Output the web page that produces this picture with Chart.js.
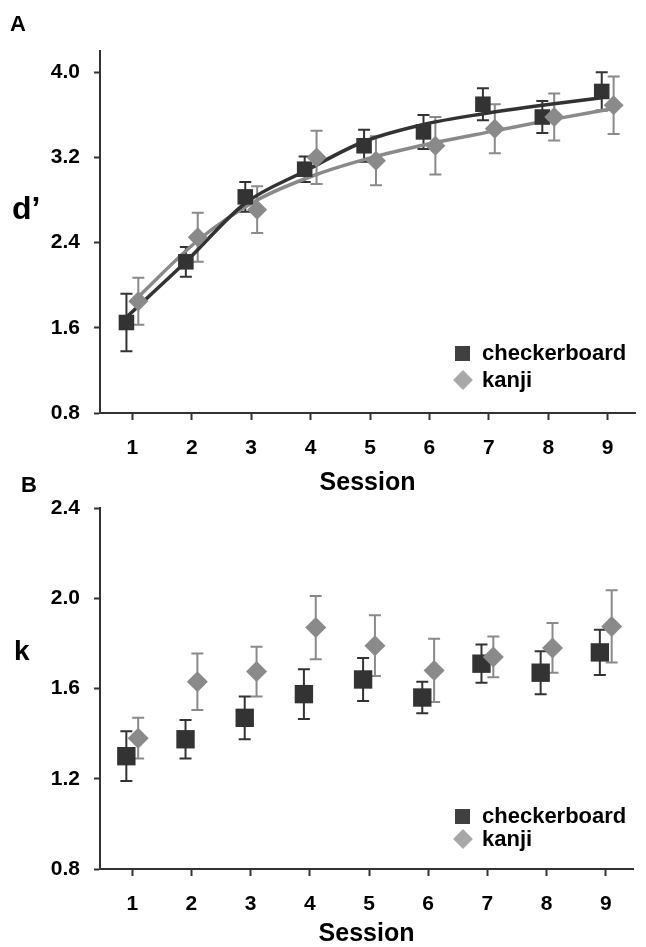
<!DOCTYPE html>
<html>
<head>
<meta charset="utf-8">
<script src="https://cdn.jsdelivr.net/npm/chart.js@4.4.0/dist/chart.umd.min.js"></script>
<style>
  body { margin: 0; background: #fff; font-family: "Liberation Sans", Arial, sans-serif; }
  #fig { position: relative; width: 646px; height: 947px; overflow: hidden; }
  canvas { position: absolute; left: 0; }
  .txt { position: absolute; font-weight: bold; color: #000; line-height: 1; }
  .leg { position: absolute; font-weight: bold; font-size: 22px; line-height: 24px; color: #000; white-space: nowrap; }
  .leg .mk { position: absolute; left: -27px; }
  .sq { width: 15px; height: 15px; top: 5px; background: #404040; }
  .dm { width: 14px; height: 14px; top: 5px; left: -26px !important; background: #a8a8a8; transform: rotate(45deg); }
</style>
</head>
<body>
<div id="fig">
  <canvas id="chartA" width="646" height="496" style="top:0"></canvas>
  <canvas id="chartB" width="646" height="477" style="top:470px"></canvas>
  <div class="txt" style="left:10px; top:13px; font-size:22px">A</div>
  <div class="txt" style="left:21px; top:474px; font-size:22px">B</div>
  <div class="txt" style="left:12px; top:192px; font-size:32px">d’</div>
  <div class="txt" style="left:14px; top:637px; font-size:28px">k</div>
</div>
<script>
// sessions and tick labels
const sessions = [1, 2, 3, 4, 5, 6, 7, 8, 9];
const dTicks = [0.8, 1.6, 2.4, 3.2, 4.0];
const kTicks = [0.8, 1.2, 1.6, 2.0, 2.4];

// panel A: d'
const dChecker = [1.65, 2.22, 2.83, 3.09, 3.31, 3.44, 3.70, 3.58, 3.82];
const dCheckerErr = [0.27, 0.14, 0.14, 0.12, 0.15, 0.16, 0.15, 0.15, 0.18];
const dKanji = [1.85, 2.45, 2.71, 3.20, 3.17, 3.31, 3.47, 3.58, 3.69];
const dKanjiErr = [0.22, 0.23, 0.22, 0.25, 0.23, 0.27, 0.23, 0.22, 0.27];
const dCheckerFit = [1.70, 2.22, 2.77, 3.07, 3.35, 3.51, 3.61, 3.69, 3.76];
const dKanjiFit = [1.89, 2.42, 2.80, 3.04, 3.21, 3.34, 3.45, 3.56, 3.66];

// panel B: k
const kChecker = [1.30, 1.375, 1.47, 1.575, 1.64, 1.56, 1.71, 1.67, 1.76];
const kCheckerErr = [0.11, 0.085, 0.095, 0.11, 0.095, 0.07, 0.085, 0.095, 0.10];
const kKanji = [1.38, 1.63, 1.675, 1.87, 1.79, 1.68, 1.74, 1.78, 1.875];
const kKanjiErr = [0.09, 0.125, 0.11, 0.14, 0.135, 0.14, 0.09, 0.11, 0.16];

const dark = "#333333";
const grey = "#8a8a8a";
const FONT = "'Liberation Sans', Arial, sans-serif";

// markers are drawn a little left / right of the session tick
const checkerShift = -0.1;
const kanjiShift = 0.1;

function points(values, shift) {
  return values.map((v, i) => ({ x: sessions[i] + shift, y: v }));
}

// error bars drawn under the markers
const errorBars = {
  id: "errorBars",
  beforeDatasetsDraw(chart) {
    const ctx = chart.ctx;
    const xs = chart.scales.x;
    const ys = chart.scales.y;
    chart.data.datasets.forEach((ds) => {
      if (!ds.errors) return;
      ctx.save();
      ctx.strokeStyle = ds.borderColor;
      ctx.lineWidth = 2;
      ds.data.forEach((p, j) => {
        const x = xs.getPixelForValue(p.x);
        const top = ys.getPixelForValue(p.y + ds.errors[j]);
        const bot = ys.getPixelForValue(p.y - ds.errors[j]);
        ctx.beginPath();
        ctx.moveTo(x, top);
        ctx.lineTo(x, bot);
        ctx.moveTo(x - 6, top);
        ctx.lineTo(x + 6, top);
        ctx.moveTo(x - 6, bot);
        ctx.lineTo(x + 6, bot);
        ctx.stroke();
      });
      ctx.restore();
    });
  },
};

function makePanel(id, cfg) {
  const datasets = [
    {
      label: "kanji",
      data: points(cfg.kanji, kanjiShift),
      errors: cfg.kanjiErr,
      pointStyle: "rectRot",
      pointRadius: cfg.diamond,
      backgroundColor: grey,
      borderColor: grey,
      borderWidth: 0,
      order: 0,
    },
    {
      label: "checkerboard",
      data: points(cfg.checker, checkerShift),
      errors: cfg.checkerErr,
      pointStyle: "rect",
      pointRadius: cfg.square,
      backgroundColor: dark,
      borderColor: dark,
      borderWidth: 0,
      order: 1,
    },
  ];
  if (cfg.checkerFit) {
    datasets.push({
      label: "checkerboard fit",
      data: points(cfg.checkerFit, checkerShift),
      showLine: true,
      pointRadius: 0,
      borderColor: dark,
      borderWidth: 3.5,
      cubicInterpolationMode: "monotone",
      order: 2,
    });
    datasets.push({
      label: "kanji fit",
      data: points(cfg.kanjiFit, kanjiShift),
      showLine: true,
      pointRadius: 0,
      borderColor: grey,
      borderWidth: 3.5,
      cubicInterpolationMode: "monotone",
      order: 3,
    });
  }

  new Chart(document.getElementById(id), {
    type: "scatter",
    data: { datasets },
    options: {
      responsive: false,
      animation: false,
      devicePixelRatio: 1,
      layout: { padding: { top: cfg.padTop, right: 0, bottom: 0, left: 0 } },
      plugins: { legend: { display: false }, tooltip: { enabled: false } },
      scales: {
        x: {
          type: "linear",
          min: 0.455,
          max: 9.46,
          afterBuildTicks: (s) => { s.ticks = sessions.map((v) => ({ value: v })); },
          afterFit: (s) => { s.height = cfg.xHeight; },
          ticks: { color: "#000", padding: 16, font: { family: FONT, size: 21, weight: "bold" } },
          grid: { drawOnChartArea: false, tickLength: 7, tickColor: dark, tickWidth: 2 },
          border: { color: dark, width: 2 },
          title: {
            display: true,
            text: "Session",
            color: "#000",
            padding: 0,
            font: { family: FONT, size: 25, weight: "bold", lineHeight: 1 },
          },
        },
        y: {
          min: cfg.yTicks[0],
          max: cfg.yMax,
          afterBuildTicks: (s) => { s.ticks = cfg.yTicks.map((v) => ({ value: v })); },
          afterFit: (s) => { s.width = 100; },
          ticks: {
            color: "#000",
            padding: 14,
            font: { family: FONT, size: 21, weight: "bold" },
            callback: (v) => Number(v).toFixed(1),
          },
          grid: { drawOnChartArea: false, tickLength: 6, tickColor: dark, tickWidth: 2 },
          border: { color: dark, width: 2 },
        },
      },
    },
    plugins: [errorBars],
  });
}

function addLegend(left, top, gap) {
  const fig = document.getElementById("fig");
  const rows = [["checkerboard", "sq"], ["kanji", "dm"]];
  rows.forEach(([name, cls], i) => {
    const el = document.createElement("div");
    el.className = "leg";
    el.style.left = left + "px";
    el.style.top = top + i * gap + "px";
    el.innerHTML = '<span class="mk ' + cls + '"></span>' + name;
    fig.appendChild(el);
  });
}

makePanel("chartA", {
  checker: dChecker, checkerErr: dCheckerErr,
  kanji: dKanji, kanjiErr: dKanjiErr,
  checkerFit: dCheckerFit, kanjiFit: dKanjiFit,
  yTicks: dTicks, yMax: 4.2,
  padTop: 51, xHeight: 83,
  square: 11, diamond: 10,
});

makePanel("chartB", {
  checker: kChecker, checkerErr: kCheckerErr,
  kanji: kKanji, kanjiErr: kKanjiErr,
  yTicks: kTicks, yMax: 2.4,
  padTop: 38, xHeight: 78,
  square: 13, diamond: 10.5,
});

addLegend(482, 341, 27);
addLegend(482, 804, 23);
</script>
</body>
</html>
